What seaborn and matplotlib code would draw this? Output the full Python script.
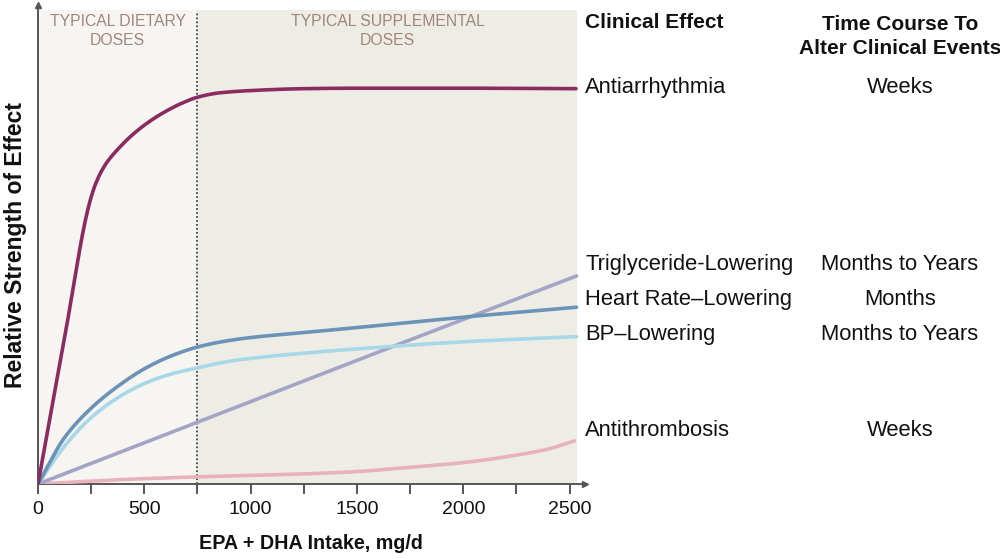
import numpy as np
import pandas as pd
import matplotlib
matplotlib.use("Agg")
import matplotlib.pyplot as plt
import seaborn as sns

# ---- data ----
anti_arr_x = [0, 120, 244, 277, 320, 375, 450, 525, 600, 675, 750, 850, 1000, 1250, 1500, 2000, 2530]
anti_arr_y = [0, 29.6, 59.6, 64.0, 67.6, 70.6, 73.9, 76.5, 78.6, 80.3, 81.6, 82.5, 83.0, 83.4, 83.5, 83.5, 83.4]

hr_x = [0, 125, 250, 375, 500, 625, 750, 875, 1000, 1250, 1500, 2000, 2533]
hr_y = [0, 9.8, 16.0, 20.6, 24.3, 27.0, 28.9, 30.1, 30.9, 31.95, 33.0, 35.2, 37.3]

bp_x = [0, 125, 250, 375, 500, 625, 750, 875, 1000, 1250, 1500, 2000, 2533]
bp_y = [0, 8.0, 14.0, 18.2, 21.2, 23.2, 24.5, 25.7, 26.5, 27.6, 28.5, 30.0, 31.1]

tg_x = [0, 500, 1000, 1500, 2000, 2533]
tg_y = [0, 8.7, 17.4, 26.1, 34.7, 43.9]

at_x = [0, 432, 747, 1231, 1490, 1739, 1997, 2251, 2392, 2523]
at_y = [0, 1.0, 1.5, 2.1, 2.6, 3.5, 4.5, 6.1, 7.3, 9.1]

effects = ["Antiarrhythmia", "Triglyceride-Lowering", "Heart Rate\u2013Lowering",
           "BP\u2013Lowering", "Antithrombosis"]
time_course = ["Weeks", "Months to Years", "Months", "Months to Years", "Weeks"]
label_y = [83.6, 46.3, 39.0, 31.6, 11.2]

xticks = [0, 500, 1000, 1500, 2000, 2500]
dose_split = 750
x_end = 2537

colors = {
    "Antiarrhythmia": "#8a2c62",
    "Heart Rate\u2013Lowering": "#6b93b7",
    "BP\u2013Lowering": "#a8d7e8",
    "Triglyceride-Lowering": "#a3a4c6",
    "Antithrombosis": "#e8b2bd",
}

frames = []
for name, xs, ys in [("Antiarrhythmia", anti_arr_x, anti_arr_y),
                     ("Triglyceride-Lowering", tg_x, tg_y),
                     ("Heart Rate\u2013Lowering", hr_x, hr_y),
                     ("BP\u2013Lowering", bp_x, bp_y),
                     ("Antithrombosis", at_x, at_y)]:
    frames.append(pd.DataFrame({"dose": xs, "effect": ys, "series": name}))
df = pd.concat(frames, ignore_index=True)

sns.set_theme(style="white")
plt.rcParams["font.family"] = ["Liberation Sans", "DejaVu Sans"]

fig = plt.figure(figsize=(10, 5.58), dpi=100)
ax = fig.add_axes([0.038, 0.1326, 0.5465, 0.858])
ax.set_xlim(0, 2570)
ax.set_ylim(0, 101)

# background bands
ax.axvspan(0, dose_split, ymin=0, ymax=100 / 101, color="#f6f5f1", zorder=0, lw=0)
ax.axvspan(dose_split, x_end, ymin=0, ymax=100 / 101, color="#eeede5", zorder=0, lw=0)
ax.plot([dose_split, dose_split], [0, 99.5], ls=(0, (1, 1.2)), color="#444444", lw=1.3, zorder=1)

# monotone cubic interpolation through the read points (for drawing smooth curves)
def smooth(xs, ys, n=400):
    xs = np.asarray(xs, float); ys = np.asarray(ys, float)
    h = np.diff(xs); d = np.diff(ys) / h
    m = np.zeros_like(ys)
    m[0] = d[0]; m[-1] = d[-1]
    for i in range(1, len(xs) - 1):
        if d[i - 1] * d[i] <= 0:
            m[i] = 0
        else:
            w1 = 2 * h[i] + h[i - 1]; w2 = h[i] + 2 * h[i - 1]
            m[i] = (w1 + w2) / (w1 / d[i - 1] + w2 / d[i])
    xx = np.linspace(xs[0], xs[-1], n)
    idx = np.clip(np.searchsorted(xs, xx) - 1, 0, len(xs) - 2)
    t = (xx - xs[idx]) / h[idx]
    h00 = 2 * t**3 - 3 * t**2 + 1; h10 = t**3 - 2 * t**2 + t
    h01 = -2 * t**3 + 3 * t**2; h11 = t**3 - t**2
    yy = h00 * ys[idx] + h10 * h[idx] * m[idx] + h01 * ys[idx + 1] + h11 * h[idx] * m[idx + 1]
    return xx, yy

sm = []
for name, g in df.groupby("series", sort=False):
    xx, yy = smooth(g["dose"].values, g["effect"].values)
    sm.append(pd.DataFrame({"dose": xx, "effect": yy, "series": name}))
sdf = pd.concat(sm, ignore_index=True)

order = ["Antithrombosis", "Triglyceride-Lowering", "BP\u2013Lowering",
         "Heart Rate\u2013Lowering", "Antiarrhythmia"]
sns.lineplot(data=sdf, x="dose", y="effect", hue="series", hue_order=order,
             palette=colors, linewidth=2.6, legend=False, ax=ax, sort=False,
             estimator=None, zorder=3)

# spines and arrows
for s in ["top", "right"]:
    ax.spines[s].set_visible(False)
for s in ["left", "bottom"]:
    ax.spines[s].set_color("#555555")
    ax.spines[s].set_linewidth(1.4)
ax.plot(1, 0, ">", transform=ax.transAxes, clip_on=False, color="#555555", ms=5)
ax.plot(0, 1, "^", transform=ax.transAxes, clip_on=False, color="#555555", ms=5)

all_ticks = np.arange(0, 2501, 250)
ax.set_xticks(all_ticks)
ax.set_xticklabels([str(v) if v in xticks else "" for v in all_ticks],
                   fontsize=14, color="#111111")
ax.tick_params(axis="x", direction="out", length=7, width=1.4, color="#555555", pad=5,
               bottom=True)
ax.set_yticks([])
ax.set_xlabel("EPA + DHA Intake, mg/d", fontsize=14.2, fontweight="bold", labelpad=12,
              color="#111111")
ax.set_ylabel("Relative Strength of Effect", fontsize=16.5, fontweight="bold", labelpad=8,
              color="#111111")

# region labels
band_col = "#a1847f"
ax.text(dose_split / 2, 99.2, "TYPICAL DIETARY\nDOSES", ha="center", va="top",
        fontsize=11.3, color=band_col, linespacing=1.35)
ax.text((dose_split + x_end) / 2, 99.2, "TYPICAL SUPPLEMENTAL\nDOSES", ha="center",
        va="top", fontsize=11.3, color=band_col, linespacing=1.35)

# right-hand table
fig.text(0.585, 0.96, "Clinical Effect", ha="left", va="center", fontsize=15,
         fontweight="bold", color="#111111")
fig.text(0.9, 0.935, "Time Course To\nAlter Clinical Events", ha="center", va="center",
         fontsize=15, fontweight="bold", color="#111111", linespacing=1.3)
for name, yv, tc in zip(effects, label_y, time_course):
    ytr = ax.transData.transform((0, yv))[1] / fig.bbox.height
    fig.text(0.585, ytr, name, ha="left", va="center", fontsize=15.8, color="#111111")
    fig.text(0.9, ytr, tc, ha="center", va="center", fontsize=15.8, color="#111111")

fig.savefig("out.png", dpi=100, facecolor="white")
